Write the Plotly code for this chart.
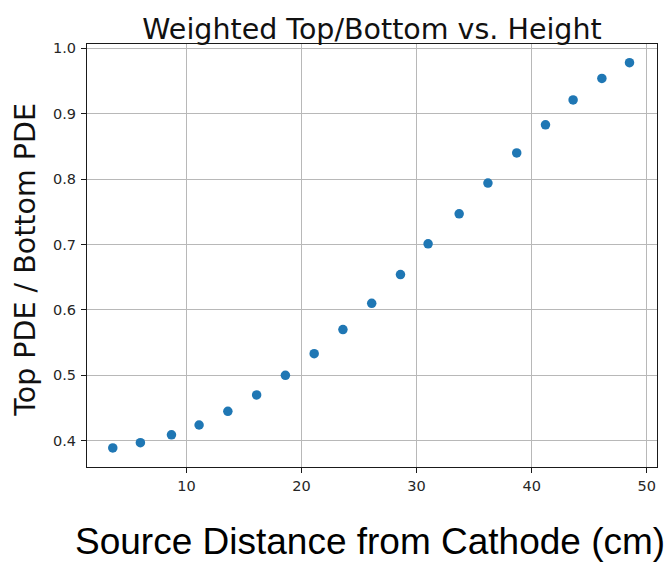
import plotly.graph_objects as go

# Source height above the cathode (cm) and the weighted top/bottom PDE ratio
distance_cm = [3.6, 6.0, 8.7, 11.1, 13.6, 16.1, 18.6, 21.1, 23.6, 26.1,
               28.6, 31.0, 33.7, 36.2, 38.7, 41.2, 43.6, 46.1, 48.5]
pde_ratio = [0.389, 0.397, 0.409, 0.424, 0.445, 0.470, 0.500, 0.533, 0.570, 0.610,
             0.654, 0.701, 0.747, 0.794, 0.840, 0.883, 0.921, 0.954, 0.978]

x_ticks = [10, 20, 30, 40, 50]
y_ticks = [0.4, 0.5, 0.6, 0.7, 0.8, 0.9, 1.0]

W, H = 669, 562
tick_font = dict(family="DejaVu Sans", size=14.5, color="#262626")

fig = go.Figure(
    go.Scatter(
        x=distance_cm,
        y=pde_ratio,
        mode="markers",
        marker=dict(color="#1f77b4", size=9.5, line=dict(width=0)),
        showlegend=False,
    )
)

axis_common = dict(
    showline=True,
    linecolor="#1a1a1a",
    linewidth=1.2,
    mirror=True,
    showgrid=True,
    gridcolor="#b8b8b8",
    gridwidth=1,
    zeroline=False,
    ticks="outside",
    ticklen=5,
    tickwidth=1,
    tickcolor="#1a1a1a",
    tickfont=tick_font,
)

fig.update_xaxes(range=[1.36, 50.89], tickvals=x_ticks,
                 ticktext=[str(v) for v in x_ticks], **axis_common)
fig.update_yaxes(range=[0.3598, 1.0066], tickvals=y_ticks,
                 ticktext=[f"{v:.1f}" for v in y_ticks],
                 ticklabelstandoff=2, **axis_common)

fig.update_layout(
    width=W,
    height=H,
    margin=dict(l=87, r=12, t=44, b=95, pad=0),
    paper_bgcolor="white",
    plot_bgcolor="white",
    title=dict(
        text="Weighted Top/Bottom vs. Height",
        font=dict(family="DejaVu Sans", size=28.5, color="#111111"),
        x=372 / W,
        xanchor="center",
        xref="container",
        y=1 - 29 / H,
        yanchor="middle",
        yref="container",
    ),
    annotations=[
        dict(
            text="Top PDE / Bottom PDE",
            font=dict(family="DejaVu Sans", size=28.5, color="#111111"),
            textangle=-90,
            xref="paper", yref="paper",
            x=-61 / (W - 87 - 12), y=(467.3 - 260) / (467.3 - 44),
            xanchor="center", yanchor="middle",
            showarrow=False,
        ),
        dict(
            text="Source Distance from Cathode (cm)",
            font=dict(family="Liberation Sans", size=37, color="#000000"),
            xref="paper", yref="paper",
            x=(370 - 87) / (W - 87 - 12), y=-(542 - 467.3) / (467.3 - 44),
            xanchor="center", yanchor="middle",
            showarrow=False,
        ),
    ],
)

fig.write_html("out.html")
